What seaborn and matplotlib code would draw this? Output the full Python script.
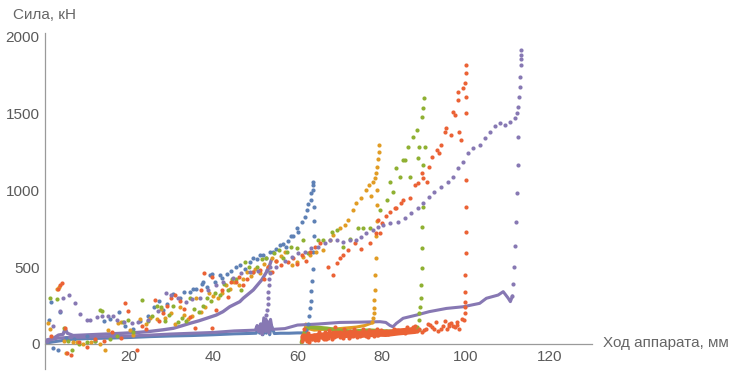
import matplotlib
matplotlib.use("Agg")
import matplotlib.pyplot as plt
import seaborn as sns
import numpy as np
import pandas as pd
from matplotlib.ticker import MultipleLocator

# colours (Mathematica default palette)
BLUE = "#5E81B5"
ORANGE = "#E19C24"
GREEN = "#8FB032"
RED = "#EB6235"
PURPLE = "#8778B3"

# ---- blue: loading + drop
blue_x = [1.0, 1.5, 2.0, 3.0, 3.5, 5, 7, 10, 12, 14, 15.5, 17.5, 19, 21, 22.5, 24.5, 26, 27, 28, 29,
          30.5, 32, 33, 34.4, 35.2, 36, 37.2, 37.6, 38.5, 39.2, 39.6, 40.5, 41.6, 42, 43.2, 44.3, 45.5,
          46.3, 47.5, 48.7, 49.5, 50.3, 51, 51.9, 52.5, 53.4, 54.2, 55, 55.8, 56.6, 57.2, 57.8, 58.5, 59,
          59.8, 60.2, 61, 61.8, 62.2, 62.5, 63.1, 63.3, 63.7, 63.7, 63.8,
          64.0, 64.0, 63.9, 63.8, 63.7, 63.5, 63.3, 63.1, 62.9, 62.7, 62.4, 62.1]
blue_y = [155, 275, -25, -40, 210, 40, 30, 50, 20, 150, 160, 210, 120, 100, 150, 185, 240, 280, 220, 260,
          325, 300, 335, 335, 360, 355, 390, 400, 370, 450, 455, 400, 445, 430, 455, 475, 500,
          510, 490, 530, 560, 550, 580, 575, 560, 595, 600, 620, 640, 650, 630, 670, 700, 700,
          755, 725, 790, 825, 870, 910, 935, 980, 1000, 1035, 1050,
          890, 800, 700, 600, 490, 410, 345, 280, 235, 180, 130, 90]
# blue: return at low force
blue_ret_x = [62.0, 60, 58, 56, 54.5, 53.8, 53.4, 53.0, 52.6, 52.2, 51.8, 51.4, 51.0, 50.6, 50.2, 48, 45, 40,
              35, 30, 25, 20, 15, 10, 6, 4, 2, 0.3]
blue_ret_y = [72, 72, 70, 70, 68, 120, 60, 140, 70, 150, 60, 130, 70, 110, 70, 68, 66, 60,
              55, 52, 48, 42, 38, 35, 30, 22, 14, 6]

# ---- orange
orange_x = [0.8, 1.2, 2.8, 3.3, 4.5, 5.0, 6.7, 7.5, 9, 11, 13, 14.3, 15, 17.4, 18, 20.2, 21, 22.5, 24, 25,
            26.5, 27.5, 28.5, 30, 31, 32, 33, 34, 35, 36, 37, 38, 39, 40, 41, 42, 43, 44, 45, 46, 47, 48,
            49, 50, 51, 52, 53, 54, 55, 56, 57, 58.6, 59.8, 61.4, 63, 64.5, 66.1, 67.7, 68.4, 70, 71.3,
            72, 73.2, 74, 75.2, 76.4, 77, 77.5, 78, 78.4, 78.6, 79.0, 79.2, 79.3, 79.4,
            78.9, 78.8, 78.8, 78.7, 78.6, 78.5, 78.4, 78.3, 78.2, 78.1, 78.0, 77.8]
orange_y = [135, 100, 355, 370, 20, -60, 15, 10, 0, 10, 0, -39, 91, 134, 140, 91, 60, 160, 130, 170,
            160, 230, 170, 200, 130, 240, 190, 160, 180, 300, 210, 240, 330, 310, 300, 330, 380, 360, 400,
            380, 420, 470, 440, 490, 460, 520, 500, 560, 540, 570, 600, 513, 534, 567, 578, 600, 610, 675,
            708, 751, 773, 805, 870, 913, 946, 1000, 1030, 960, 1054, 1080, 1108, 1150, 1200, 1250, 1292,
            1000, 900, 800, 700, 556, 448, 350, 286, 232, 199, 167, 140]
orange_ret_x = [78, 76, 74, 72, 70, 68, 66, 64, 62.5, 62.0, 61.8, 61.5, 61.2, 61.0]
orange_ret_y = [140, 120, 110, 105, 100, 95, 95, 90, 100, 130, 80, 50, 20, 5]

# ---- green
green_x = [1.2, 2.9, 4.5, 5.5, 6.3, 8, 10, 12, 13, 13.5, 15.5, 17, 18.5, 19.8, 21, 23, 24.5, 25.5, 26.5,
           27.5, 28.5, 29.5, 30.5, 31.5, 32.5, 33.5, 34.5, 35.5, 36.5, 37.5, 38.5, 39.5, 40.5, 41.5, 42.5,
           43.5, 44.5, 45.5, 46.5, 47.5, 48.5, 49.5, 50.5, 51.5, 52.5, 53.5, 54.5, 55.5, 56.5, 57.5, 58.5,
           59.8, 61.4, 62.5, 64.9, 66.1, 68.1, 69.3, 70.8, 72.4, 74.4, 75.6, 77.2, 79.6, 81.2, 81.9, 82.7,
           83.5, 84.3, 85.1, 85.5, 86.3, 86.7, 87.5, 88.3, 88.7, 89.0, 89.5, 89.9, 90.0, 90.3,
           89.9, 89.9, 89.7, 89.5, 89.5, 89.4, 89.3, 89.2, 89.0, 88.8, 88.5]
green_y = [298, 292, 104, 20, -39, 0, 10, 20, 220, 215, 30, 50, 140, 156, 80, 286, 150, 180, 250,
           240, 150, 190, 250, 140, 170, 150, 300, 230, 210, 250, 300, 280, 330, 320, 390,
           350, 420, 420, 350, 530, 500, 470, 500, 550, 560, 470, 590, 610, 560, 600, 630,
           621, 675, 590, 675, 675, 729, 740, 632, 680, 751, 751, 751, 870, 935, 1054, 989,
           1140, 1086, 1195, 1195, 1281, 1086, 1346, 1390, 1206, 1281, 1476, 1530, 1595, 1281,
           1162, 892, 762, 621, 491, 383, 297, 242, 199, 156, 112]
green_ret_x = [89, 87, 85, 83, 81, 79, 77, 75, 73, 71, 69, 67, 65, 63, 62, 61.5, 61.2, 61.0]
green_ret_y = [90, 85, 85, 80, 82, 85, 88, 85, 80, 85, 92, 100, 105, 110, 95, 60, 30, 10]

# ---- red
red_x = [1.5, 3.0, 3.6, 4.0, 4.8, 5.2, 6.2, 8, 10, 12, 14, 16, 18, 19, 19.8, 21.8, 23, 24, 26.1, 27, 28,
         29, 30, 30.9, 32, 33, 34.4, 35.6, 37, 37.8, 39.6, 39.6, 40.7, 42, 43.5, 44.3, 45.5, 46, 47, 48,
         49.5, 51, 52, 53, 54, 55, 56, 57.8, 59, 60, 61, 62, 63, 64.1, 65.3, 67.3, 68.4, 69.3, 70, 70.9,
         72.1, 73.6, 75, 77.2, 78.7, 79.1, 79.6, 80, 81, 82, 83.1, 83.5, 84.7, 85.1, 86.7, 87.9, 88.7,
         89.5, 89.9, 90.7, 91.3, 92, 93.2, 93.6, 94, 95, 95.4, 96.6, 97, 97.4, 98.2, 98.2, 98.5, 98.9,
         99.4, 99.8, 100, 100, 100,
         100, 100, 100, 100, 100, 99.9, 99.9, 99.8, 99.8, 99.7, 99.6]
red_y = [50, 360, 380, 395, 102, -60, -71, 10, -20, 30, 20, 80, 40, 264, 214, -39, 120, 100, 286, 150, 200,
         250, 300, 318, 280, 230, 177, 102, 350, 459, 102, 437, 221, 350, 307, 405, 405, 437, 380, 420,
         470, 480, 420, 500, 470, 540, 510, 534, 560, 520, 580, 540, 600, 632, 654, 502, 448, 524, 556, 578,
         610, 654, 620, 654, 719, 805, 719, 784, 830, 859, 881, 881, 913, 935, 946, 1032, 1043,
         1108, 1076, 1054, 1151, 1216, 1260, 1238, 1292, 1379, 1400, 1357, 1508, 1487, 1584, 1638, 1379, 1325,
         1660, 1693, 1606, 1758, 1812,
         1498, 1065, 891, 729, 589, 448, 340, 275, 242, 199, 156]
# red: noisy return band
red_ret_x = [61.0, 61.3, 61.5, 62, 62.5, 63, 63.5, 64, 64.5, 65, 65.5, 66, 66.5, 67, 67.5, 68, 68.5, 69,
             69.5, 70, 70.5, 71, 71.5, 72, 72.5, 73, 73.5, 74, 74.5, 75, 75.5, 76, 76.5, 77, 77.5, 78,
             78.5, 79, 79.5, 80, 81, 82, 83, 84, 85, 86, 87, 88, 89, 90, 91, 92, 93, 94, 95, 96, 97, 98,
             98.5, 99,
             62.2, 63.2, 64.2, 65.2, 66.2, 67.2, 68.2, 69.2, 70.2, 71.2, 72.2, 73.2, 74.2, 75.2, 76.2,
             77.2, 78.2, 79.2, 80.5, 82.5, 84.5, 86.5, 88.5, 90.5, 92.5, 94.5, 96.5, 97.5,
             61.8, 62.8, 63.8, 64.8, 65.8, 66.8, 67.8, 68.8, 69.8, 70.8, 71.8, 72.8, 73.8, 74.8, 75.8,
             76.8, 77.8, 78.8, 79.8, 81.5, 83.5, 85.5, 87.5, 89.5, 91.5, 93.5, 95.5, 96.0, 98.0]
red_ret_y = [20, 60, 100, 40, 70, 50, 30, 60, 45, 80, 55, 40, 75, 60, 90, 50, 70, 110, 65, 80, 55, 100,
             70, 60, 85, 65, 95, 70, 60, 80, 100, 75, 65, 90, 70, 85, 75, 95, 80, 70, 85, 75, 100, 90, 80,
             110, 95, 120, 100, 90, 130, 110, 140, 100, 150, 120, 115, 145, 100, 160,
             20, 30, 25, 45, 30, 40, 35, 50, 45, 60, 40, 55, 45, 60, 50, 65, 55, 60, 70, 80, 75, 90, 85,
             100, 95, 120, 135, 110,
             35, 15, 40, 25, 55, 35, 60, 45, 70, 40, 75, 50, 80, 55, 70, 45, 80, 60, 90, 65, 90, 70, 110,
             75, 125, 85, 95, 130, 125]
red_band_x = [61.5, 63, 65, 67, 69, 71, 73, 75, 77, 79, 81, 84, 88]
red_band_y = [45, 42, 50, 55, 65, 60, 65, 62, 66, 70, 68, 78, 88]

# ---- purple: sparse dots
purple_x = [0.5, 2.0, 3.6, 4.3, 5.7, 7.1, 8.3, 9.9, 10.8, 12.3, 13.5, 14.9, 16.1, 17, 18.7, 20.6, 22, 24.5,
            26.8, 28.8, 30, 31.5, 33.6, 35, 36.8, 38.8, 40.7, 42.3, 44.7, 46.7, 48.7, 50.7, 52.7, 55, 57,
            58.6, 60.2, 61.8, 63.3, 64.9, 66.5, 67.7, 69.3, 70.8, 72.4, 74, 75.2, 76.4, 78, 79.2, 80.4, 82,
            83.9, 85.5, 87.1, 88.7, 89.9, 91.3, 92.5, 94.1, 95.7, 96.9, 98.2, 99.4, 100.6, 101.7, 103.3,
            104.5, 105.7, 106.9, 108.1, 109.3, 110.5, 111.6, 112.2, 112.5, 112.7, 112.9, 113.0, 113.1,
            113.1, 113.1, 113.1,
            112.4, 112.3, 112.2, 112.0, 111.8, 111.4, 111.3, 111.1,
            53.5, 53.4, 53.3, 53.2, 53.1, 53.0, 52.9, 52.8, 52.6, 52.4]
purple_y = [20, 120, 214, 297, 318, 268, 195, 156, 156, 177, 180, 180, 180, 156, 145, 134, 140, 156,
            212, 329, 318, 300, 275, 290, 297, 351, 383, 405, 427, 459, 470, 475, 481, 500, 540,
            567, 589, 600, 621, 632, 654, 675, 675, 665, 675, 675, 697, 719, 740, 762, 773, 784,
            794, 816, 849, 881, 913, 956, 989, 1021, 1054, 1086, 1141, 1184, 1238, 1271, 1292,
            1336, 1379, 1416, 1433, 1422, 1444, 1465, 1498, 1541, 1606, 1671, 1736, 1812,
            1850, 1877, 1909,
            1346, 1162, 979, 794, 636, 502, 390, 312,
            500, 460, 420, 380, 340, 300, 260, 220, 190, 160]
# purple: thick rising curve
purple_curve_x = [0.0, 0.4, 2.0, 3.2, 4.3, 4.8, 5.3, 6.7, 10.7, 14, 18.6, 22, 25, 28, 30.5, 32.5, 34.4,
                  36.5, 38.4, 40.7, 42.3, 43.9, 46.3, 47.1, 49.5, 51.5, 52.7, 53.4, 53.8]
purple_curve_y = [10, 26, 37, 58, 63, 100, 70, 55, 60, 64, 70, 75, 82, 92, 102, 118, 134,
                  150, 167, 188, 210, 242, 275, 297, 351, 416, 470, 513, 545]
# purple: return line
purple_ret_x = [111.1, 110.6, 110.1, 108.9, 107.7, 104.9, 103.3, 99.4, 95.4, 91.3, 88.3, 85.1, 84.3, 83.5,
                82.7, 82.0, 81.0, 79.6, 75, 70, 65, 60, 57, 54, 53.6, 53.2, 52.8, 52.4, 52.0, 51.6, 51.2,
                50.8, 50.4, 50, 45, 40, 35, 30, 25, 20, 15, 10, 5, 3, 1, 0]
purple_ret_y = [312, 275, 297, 340, 318, 297, 264, 242, 231, 210, 188, 167, 150, 134,
                112, 120, 140, 145, 142, 140, 130, 123, 100, 95, 160, 70, 150, 80, 170, 60, 130,
                80, 120, 90, 85, 75, 70, 65, 58, 52, 48, 45, 42, 38, 25, 12]

x_ticks = [20, 40, 60, 80, 100, 120]
y_ticks = [0, 500, 1000, 1500, 2000]

sns.set_style("white")
plt.rcParams["font.family"] = ["Liberation Sans", "DejaVu Sans"]

fig = plt.figure(figsize=(7.29, 3.72), dpi=100)
ax = fig.add_axes([45 / 729, 1 - 369.4 / 372, 547 / 729, 336.4 / 372])


def dots(x, y, color):
    sns.scatterplot(x=x, y=y, color=color, s=9, linewidth=0, ax=ax, zorder=3)


def band(x, y, color, lw):
    sns.lineplot(x=x, y=y, color=color, lw=lw, sort=False, estimator=None, ax=ax, zorder=2.5)


dots(blue_x, blue_y, BLUE)
band(blue_ret_x, blue_ret_y, BLUE, 2.2)
dots(orange_x, orange_y, ORANGE)
band(orange_ret_x, orange_ret_y, ORANGE, 2.2)
dots(green_x, green_y, GREEN)
band(green_ret_x, green_ret_y, GREEN, 3.0)
dots(red_x, red_y, RED)
band(red_band_x, red_band_y, RED, 5.0)
dots(red_ret_x, red_ret_y, RED)
band(purple_curve_x, purple_curve_y, PURPLE, 2.4)
band(purple_ret_x, purple_ret_y, PURPLE, 2.2)
dots(purple_x, purple_y, PURPLE)

ax.set_xlim(0, 130)
ax.set_ylim(-165, 2020)

for s in ["top", "right"]:
    ax.spines[s].set_visible(False)
ax.spines["bottom"].set_position(("data", 0))
ax.spines["left"].set_position(("data", 0))
for s in ["bottom", "left"]:
    ax.spines[s].set_color("#9a9a9a")
    ax.spines[s].set_linewidth(0.9)

ax.set_xticks(x_ticks)
ax.set_yticks(y_ticks)
ax.xaxis.set_minor_locator(MultipleLocator(5))
ax.yaxis.set_minor_locator(MultipleLocator(100))
ax.tick_params(which="both", direction="in", color="#9a9a9a", labelcolor="#5a5a5a", labelsize=11)
ax.tick_params(which="major", length=4.5, width=0.9)
ax.tick_params(which="minor", length=2.5, width=0.7)
ax.tick_params(axis="x", pad=4)
ax.tick_params(axis="y", pad=4)
ax.set_xlabel("")
ax.set_ylabel("")

fig.text(13 / 729, 1 - 15 / 372, "Сила, кН", color="#666666", fontsize=11, va="center", ha="left")
fig.text(603 / 729, 1 - 343 / 372, "Ход аппарата, мм", color="#666666", fontsize=11, va="center", ha="left")

fig.savefig("out.png", dpi=100)
